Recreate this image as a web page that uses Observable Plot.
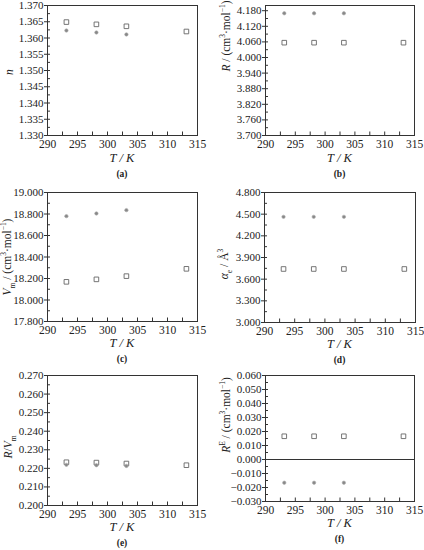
<!DOCTYPE html>
<html><head><meta charset="utf-8">
<script src="https://cdn.jsdelivr.net/npm/d3@7"></script>
<script src="https://cdn.jsdelivr.net/npm/@observablehq/plot@0.6"></script>
<style>
body{margin:0;background:#fff;}
#root{position:relative;width:424px;height:550px;overflow:hidden;font-family:"Liberation Serif","Times New Roman",serif;color:#222;}
.panel{position:absolute;}
.lab{position:absolute;white-space:nowrap;transform:translate(-50%,-50%);font-size:12.5px;font-style:italic;}
.ylab{position:absolute;white-space:nowrap;transform:translate(-50%,-50%) rotate(-90deg);font-size:11.5px;line-height:1;}
.cap{position:absolute;white-space:nowrap;transform:translate(-50%,-50%);font-weight:bold;font-size:9.5px;}
sub,sup{font-size:65%;line-height:0;}
</style></head><body><div id="root"></div>
<script>
// Temperatures (K)
const T_square = [293.15, 298.15, 303.15, 313.15];
const T_circle = [293.15, 298.15, 303.15];
const xTickLabels = [290, 295, 300, 305, 310, 315];

// (a) refractive index n
const n_square = [1.3649, 1.3642, 1.3636, 1.3620];
const n_circle = [1.3623, 1.3617, 1.3611];
// (b) molar refraction R
const R_square = [4.057, 4.057, 4.057, 4.057];
const R_circle = [4.170, 4.170, 4.170];
// (c) molar volume Vm
const Vm_square = [18.169, 18.192, 18.222, 18.290];
const Vm_circle = [18.780, 18.805, 18.836];
// (d) polarizability
const alpha_square = [3.741, 3.741, 3.741, 3.741];
const alpha_circle = [4.463, 4.463, 4.463];
// (e) R/Vm
const RVm_square = [0.2233, 0.2231, 0.2226, 0.2217];
const RVm_circle = [0.2219, 0.2217, 0.2213];
// (f) excess R
const RE_square = [0.0166, 0.0166, 0.0166, 0.0166];
const RE_circle = [-0.0166, -0.0166, -0.0166];

const panels = [
  {id:"a", left:0, top:0, h:185, mL:47, mR:15, mT:5, mB:50, y0:1.330, y1:1.370, step:0.005, fmt:".3f",
   sq:n_square, ci:n_circle, ylab:'<i>n</i>', yx:10, yy:72, tk:23, cp:39},
  {id:"b", left:212, top:0, h:185, mL:53, mR:10, mT:5, mB:50, y0:3.700, y1:4.200, step:0.060, fmt:".3f",
   sq:R_square, ci:R_circle, ylab:'<i>R</i> / (cm<sup>3</sup>·mol<sup>−1</sup>)', yx:227, yy:36, tk:23, cp:39},
  {id:"c", left:0, top:185, h:185, mL:47, mR:15, mT:7, mB:49, y0:17.800, y1:19.000, step:0.200, fmt:".3f",
   sq:Vm_square, ci:Vm_circle, ylab:'<i>V</i><sub>m</sub> / (cm<sup>3</sup>·mol<sup>−1</sup>)', yx:8, yy:257, tk:22, cp:38},
  {id:"d", left:212, top:185, h:185, mL:52, mR:9, mT:7, mB:48, y0:3.000, y1:4.800, step:0.300, fmt:".3f",
   sq:alpha_square, ci:alpha_circle, ylab:'<i>α</i><sub>e</sub> / Å<sup>3</sup>', yx:225, yy:264, tk:22, cp:38},
  {id:"e", left:0, top:370, h:180, mL:47, mR:15, mT:5, mB:45, y0:0.200, y1:0.270, step:0.010, fmt:".3f",
   sq:RVm_square, ci:RVm_circle, ylab:'<i>R</i>/<i>V</i><sub>m</sub>', yx:9, yy:447, tk:22, cp:38},
  {id:"f", left:212, top:370, h:180, mL:53, mR:10, mT:5, mB:49, y0:-0.030, y1:0.060, step:0.010, fmt:".3f",
   sq:RE_square, ci:RE_circle, ylab:'<i>R</i><sup>E</sup> / (cm<sup>3</sup>·mol<sup>−1</sup>)', yx:227, yy:415, tk:22, cp:38, zero:true}
];

const root = document.getElementById("root");
const xMinor = d3.range(0, 11).map(i => 290 + i * 2.5);

for (const p of panels) {
  const nMaj = Math.round((p.y1 - p.y0) / p.step);
  const yMajor = d3.range(0, nMaj + 1).map(i => +(p.y0 + i * p.step).toFixed(6));
  const yMinor = d3.range(0, 2 * nMaj + 1).map(i => +(p.y0 + i * p.step / 2).toFixed(6));
  const sqData = T_square.map((T, i) => ({T, v: p.sq[i]}));
  const ciData = T_circle.map((T, i) => ({T, v: p.ci[i]}));
  const f = d3.format(p.fmt);
  const marks = [
    Plot.axisX(xTickLabels, {tickSize: 0, tickPadding: 4, tickFormat: d => d, label: null, fontSize: 11.5}),
    Plot.axisX(xMinor, {tickSize: -3.5, tickFormat: () => "", label: null, stroke: "#333"}),
    Plot.axisY(yMajor, {tickSize: 3, tickPadding: 1, tickFormat: d => f(d), label: null, fontSize: 11, stroke: "#333"}),
    Plot.axisY(yMinor, {tickSize: -3, tickFormat: () => "", label: null, stroke: "#333"}),
  ];
  if (p.zero) marks.push(Plot.ruleY([0], {stroke: "#333", strokeWidth: 1}));
  marks.push(
    Plot.dot(sqData, {x: "T", y: "v", symbol: "square", r: 2.6, stroke: "#666", fill: "white", strokeWidth: 0.9}),
    Plot.dot(ciData, {x: "T", y: "v", r: 1.7, fill: "#888", stroke: "#aaa", strokeWidth: 0.6}),
    Plot.frame({stroke: "#333", strokeWidth: 1})
  );
  const chart = Plot.plot({
    width: 212, height: p.h,
    marginLeft: p.mL, marginRight: p.mR, marginTop: p.mT, marginBottom: p.mB,
    style: {fontFamily: '"Liberation Serif", "Times New Roman", serif', fontSize: "11px", color: "#222", background: "white", overflow: "visible"},
    x: {domain: [290, 315]},
    y: {domain: [p.y0, p.y1]},
    marks
  });
  const div = document.createElement("div");
  div.className = "panel";
  div.style.left = p.left + "px";
  div.style.top = p.top + "px";
  div.appendChild(chart);
  root.appendChild(div);

  const cx = p.left + p.mL + (212 - p.mL - p.mR) / 2;
  const bottom = p.top + p.h - p.mB;
  const xl = document.createElement("div");
  xl.className = "lab";
  xl.style.left = cx + "px";
  xl.style.top = (bottom + p.tk) + "px";
  xl.innerHTML = "T / K";
  root.appendChild(xl);

  const cap = document.createElement("div");
  cap.className = "cap";
  cap.style.left = cx + "px";
  cap.style.top = (bottom + p.cp) + "px";
  cap.textContent = "(" + p.id + ")";
  root.appendChild(cap);

  const yl = document.createElement("div");
  yl.className = "ylab";
  yl.style.left = p.yx + "px";
  yl.style.top = p.yy + "px";
  yl.innerHTML = p.ylab;
  root.appendChild(yl);
}
</script>
</body></html>
